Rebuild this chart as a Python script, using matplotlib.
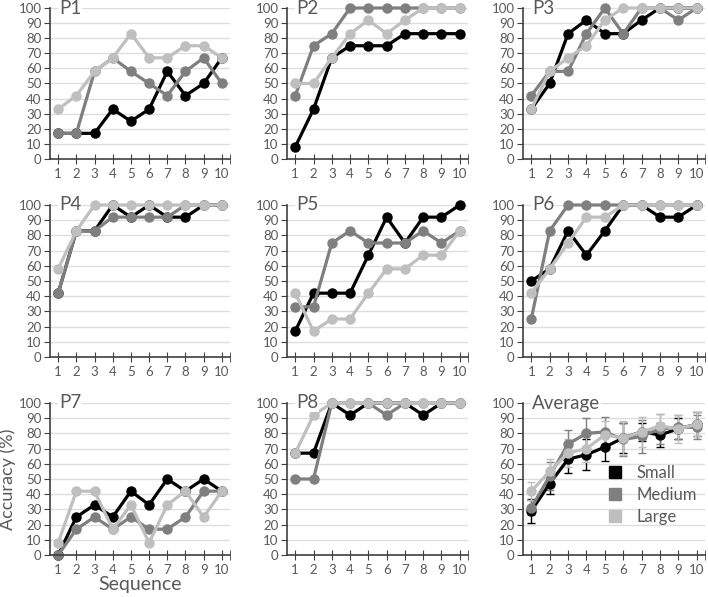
import numpy as np
import matplotlib
matplotlib.use("Agg")
import matplotlib.pyplot as plt

plt.rcParams['font.family'] = ['Lato', 'DejaVu Sans']

seq = np.arange(1, 11)
names = ["P1", "P2", "P3", "P4", "P5", "P6", "P7", "P8"]

small = [
    [17, 17, 17, 33, 25, 33, 58, 42, 50, 67],
    [8, 33, 67, 75, 75, 75, 83, 83, 83, 83],
    [33, 50, 83, 92, 83, 83, 92, 100, 100, 100],
    [42, 83, 83, 100, 92, 100, 92, 92, 100, 100],
    [17, 42, 42, 42, 67, 92, 75, 92, 92, 100],
    [50, 58, 83, 67, 83, 100, 100, 92, 92, 100],
    [0, 25, 33, 25, 42, 33, 50, 42, 50, 42],
    [67, 67, 100, 92, 100, 100, 100, 92, 100, 100],
]
medium = [
    [17, 17, 58, 67, 58, 50, 42, 58, 67, 50],
    [42, 75, 83, 100, 100, 100, 100, 100, 100, 100],
    [42, 58, 58, 83, 100, 83, 100, 100, 92, 100],
    [42, 83, 83, 92, 92, 92, 92, 100, 100, 100],
    [33, 33, 75, 83, 75, 75, 75, 83, 75, 83],
    [25, 83, 100, 100, 100, 100, 100, 100, 100, 100],
    [0, 17, 25, 17, 25, 17, 17, 25, 42, 42],
    [50, 50, 100, 100, 100, 92, 100, 100, 100, 100],
]
large = [
    [33, 42, 58, 67, 83, 67, 67, 75, 75, 67],
    [50, 50, 67, 83, 92, 83, 92, 100, 100, 100],
    [33, 58, 67, 75, 92, 100, 100, 100, 100, 100],
    [58, 83, 100, 100, 100, 100, 100, 100, 100, 100],
    [42, 17, 25, 25, 42, 58, 58, 67, 67, 83],
    [42, 58, 75, 92, 92, 100, 100, 100, 100, 100],
    [8, 42, 42, 17, 33, 8, 33, 42, 25, 42],
    [67, 92, 100, 100, 100, 100, 100, 100, 100, 100],
]

# average panel
avg_small = [29, 47, 63, 66, 71, 77, 81, 79, 83, 86]
avg_medium = [31, 52, 73, 80, 81, 76, 78, 83, 84, 84]
avg_large = [42, 55, 67, 70, 79, 77, 81, 85, 83, 86]
err_small = [8, 7, 9, 10, 9, 10, 6, 8, 7, 8]
err_medium = [5, 9, 9, 10, 10, 11, 11, 10, 8, 8]
err_large = [6, 8, 9, 9, 9, 11, 10, 8, 9, 8]

labels = ["Small", "Medium", "Large"]
colors = ["#000000", "#7f7f7f", "#bfbfbf"]
txt = "#595959"

W, H = 708, 597
fig = plt.figure(figsize=(W / 100, H / 100), dpi=100)

lefts = [50, 287, 523]
rights = [230, 468, 705]
tops = [8, 205, 403]
bottoms = [159, 357, 555]


def make_ax(r, c):
    ax = fig.add_axes([lefts[c] / W, 1 - bottoms[r] / H,
                       (rights[c] - lefts[c]) / W, (bottoms[r] - tops[r]) / H])
    ax.set_xlim(0.55, 10.45)
    ax.set_ylim(0, 100)
    ax.set_xticks(seq)
    ax.set_xticks([10.45], minor=True)
    ax.set_yticks(np.arange(0, 101, 10))
    ax.grid(axis='y', color='#dedede', lw=1)
    ax.set_axisbelow(True)
    for s in ['top', 'right']:
        ax.spines[s].set_visible(False)
    for s in ['left', 'bottom']:
        ax.spines[s].set_color('#404040')
        ax.spines[s].set_linewidth(1.2)
    ax.tick_params(axis='x', which='both', direction='inout', length=7,
                   color='#404040', labelsize=9.5, labelcolor=txt, pad=3)
    ax.tick_params(axis='y', direction='out', length=4, color='#404040',
                   labelsize=9.5, labelcolor=txt, pad=2)
    return ax


for i, name in enumerate(names):
    r, c = divmod(i, 3)
    ax = make_ax(r, c)
    for vals, col in zip([small[i], medium[i], large[i]], colors):
        ax.plot(seq, vals, '-o', color=col, lw=2.3, ms=6.5, clip_on=False)
    ax.text(0.05, 1.0, name, transform=ax.transAxes, fontsize=13.5, color=txt,
            va='center', ha='left',
            bbox=dict(facecolor='white', edgecolor='none', pad=0.5))
    if i == 6:
        ax.set_ylabel("Accuracy (%)", fontsize=13, color=txt, labelpad=2)
        ax.set_xlabel("Sequence", fontsize=14, color=txt, labelpad=0)

ax = make_ax(2, 2)
handles = []
for m, e, col, lab in zip([avg_small, avg_medium, avg_large],
                          [err_small, err_medium, err_large], colors, labels):
    ax.errorbar(seq, m, yerr=e, fmt='-o', color=col, lw=2.3, ms=6.5,
                elinewidth=1, capsize=3, clip_on=False)
    handles.append(plt.Line2D([], [], marker='s', ls='none', color=col, ms=8,
                              label=lab))
ax.text(0.05, 1.0, "Average", transform=ax.transAxes, fontsize=13.5, color=txt,
        va='center', ha='left',
        bbox=dict(facecolor='white', edgecolor='none', pad=0.5))
ax.legend(handles=handles, loc='lower right', bbox_to_anchor=(1.04, 0.1),
          frameon=False, fontsize=12, handletextpad=0.3, labelspacing=0.35,
          labelcolor=txt)

fig.savefig("out.png", dpi=100)
